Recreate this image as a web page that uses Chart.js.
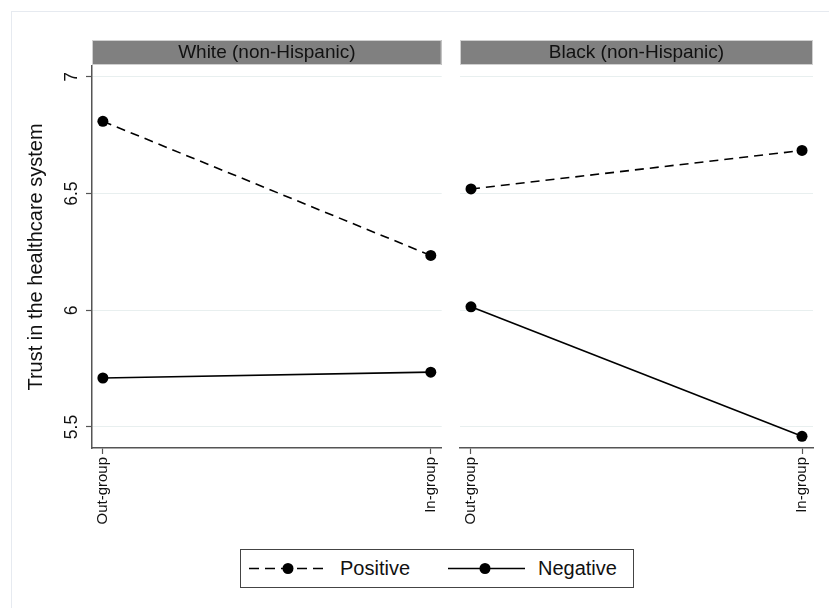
<!DOCTYPE html>
<html>
<head>
<meta charset="utf-8">
<script src="https://cdn.jsdelivr.net/npm/chart.js@4/dist/chart.umd.min.js"></script>
<style>
  html, body { margin: 0; padding: 0; background: #fff; }
  #page { position: relative; width: 829px; height: 608px; overflow: hidden; font-family: "Liberation Sans", Arial, Helvetica, sans-serif; }
  #frame { position: absolute; left: 11px; top: 11px; width: 840px; height: 620px; border: 1px solid #e6eaf0; box-sizing: border-box; }
  canvas { position: absolute; top: 0; }
  #cWhite { left: 0; }
  #cBlack { left: 452px; }
  #legend { position: absolute; left: 240px; top: 549px; width: 394px; height: 39px; border: 1px solid #444; box-sizing: border-box; background: #fff; }
  #legend svg { position: absolute; left: 0; top: 0; }
  .lt { position: absolute; top: 6px; font-size: 20px; color: #111; line-height: 24px; }
</style>
</head>
<body>
<div id="page">
  <div id="frame"></div>
  <canvas id="cWhite" width="452" height="540"></canvas>
  <canvas id="cBlack" width="377" height="540"></canvas>
  <div id="legend">
    <svg width="392" height="37">
      <line x1="8" y1="18.5" x2="88" y2="18.5" stroke="#000" stroke-width="1.6" stroke-dasharray="10 6"></line>
      <circle cx="47" cy="18.5" r="5.5" fill="#000"></circle>
      <line x1="207" y1="18.5" x2="284" y2="18.5" stroke="#000" stroke-width="1.6"></line>
      <circle cx="244" cy="18.5" r="5.5" fill="#000"></circle>
    </svg>
    <span class="lt" style="left:99px">Positive</span>
    <span class="lt" style="left:297px">Negative</span>
  </div>
</div>
<script>
// Mean trust by condition, one panel per respondent race
const groups = ['Out-group', 'In-group'];
const whitePositive = [6.81, 6.235];
const whiteNegative = [5.71, 5.735];
const blackPositive = [6.52, 6.685];
const blackNegative = [6.015, 5.46];
const yTicks = [5.5, 6, 6.5, 7];
const yTickLabels = ['5.5', '6', '6.5', '7'];
const panelTitles = ['White (non-Hispanic)', 'Black (non-Hispanic)'];
const seriesNames = ['Positive', 'Negative'];

const FONT = '"Liberation Sans", Arial, Helvetica, sans-serif';
const Y_MIN = 5.41, Y_MAX = 7.047;
const X_PAD = 0.0332;

// gray strip with the panel name above each plot region
const stripPlugin = {
  id: 'strip',
  afterDraw(chart, args, opts) {
    const { ctx, chartArea } = chart;
    ctx.save();
    ctx.fillStyle = '#808080';
    ctx.fillRect(chartArea.left, 40, chartArea.right - chartArea.left, 25);
    ctx.strokeStyle = '#d0d0d0';
    ctx.lineWidth = 1;
    ctx.strokeRect(chartArea.left + 0.5, 40.5, chartArea.right - chartArea.left - 1, 24);
    ctx.fillStyle = '#111';
    ctx.font = '19px ' + FONT;
    ctx.textAlign = 'center';
    ctx.textBaseline = 'middle';
    ctx.fillText(opts.title, (chartArea.left + chartArea.right) / 2, 53);
    ctx.restore();
  }
};

// vertical (rotated) y tick labels placed at the scale's own tick positions
const yLabelPlugin = {
  id: 'ylabels',
  afterDraw(chart, args, opts) {
    if (!opts.show) return;
    const { ctx } = chart;
    const y = chart.scales.y;
    ctx.save();
    ctx.fillStyle = '#111';
    ctx.font = '17.5px ' + FONT;
    ctx.textAlign = 'center';
    ctx.textBaseline = 'middle';
    yTicks.forEach((v, i) => {
      const py = y.getPixelForValue(v);
      ctx.save();
      ctx.translate(y.right - 20, py);
      ctx.rotate(-Math.PI / 2);
      ctx.fillText(yTickLabels[i], 0, 0);
      ctx.restore();
    });
    ctx.restore();
  }
};

function makePanel(canvasId, pos, neg, title, first) {
  const mk = (vals) => vals.map((v, i) => ({ x: i, y: v }));
  return new Chart(document.getElementById(canvasId), {
    type: 'line',
    data: {
      datasets: [
        { label: seriesNames[0], data: mk(pos), borderColor: '#000', borderWidth: 1.6, borderDash: [9, 6],
          pointRadius: 5.5, pointBackgroundColor: '#000', pointBorderWidth: 0, fill: false, tension: 0 },
        { label: seriesNames[1], data: mk(neg), borderColor: '#000', borderWidth: 1.6,
          pointRadius: 5.5, pointBackgroundColor: '#000', pointBorderWidth: 0, fill: false, tension: 0 }
      ]
    },
    options: {
      responsive: false,
      animation: false,
      devicePixelRatio: 1,
      layout: { padding: first ? { top: 66, right: 7, left: 0, bottom: 0 } : { top: 66, right: 16, left: 8, bottom: 0 } },
      plugins: {
        legend: { display: false },
        tooltip: { enabled: false },
        strip: { title: title },
        ylabels: { show: first }
      },
      scales: {
        x: {
          type: 'linear',
          min: -X_PAD, max: 1 + X_PAD,
          afterBuildTicks: (s) => { s.ticks = [{ value: 0 }, { value: 1 }]; },
          afterFit: (s) => { s.height = 92; },
          ticks: {
            callback: (v) => groups[v],
            minRotation: 90, maxRotation: 90, padding: 3,
            color: '#111', font: { family: FONT, size: 15 }
          },
          grid: { drawOnChartArea: false, drawTicks: true, tickLength: 6, tickColor: '#555', tickWidth: 1.2 },
          border: { display: true, color: '#555', width: 1.5 }
        },
        y: {
          min: Y_MIN, max: Y_MAX,
          afterBuildTicks: (s) => { s.ticks = yTicks.map(v => ({ value: v })); },
          afterFit: (s) => { s.width = first ? 92 : 0; },
          ticks: { display: false },
          grid: { color: '#e8efef', lineWidth: 1, drawTicks: first, tickLength: 6, tickColor: '#555', tickWidth: 1.2 },
          border: { display: first, color: '#555', width: 1.5 },
          title: first ? { display: true, text: 'Trust in the healthcare system', color: '#111',
                           font: { family: FONT, size: 20 }, padding: { top: 24, bottom: 0 } } : { display: false }
        }
      }
    },
    plugins: [stripPlugin, yLabelPlugin]
  });
}

makePanel('cWhite', whitePositive, whiteNegative, panelTitles[0], true);
makePanel('cBlack', blackPositive, blackNegative, panelTitles[1], false);
</script>
</body>
</html>
